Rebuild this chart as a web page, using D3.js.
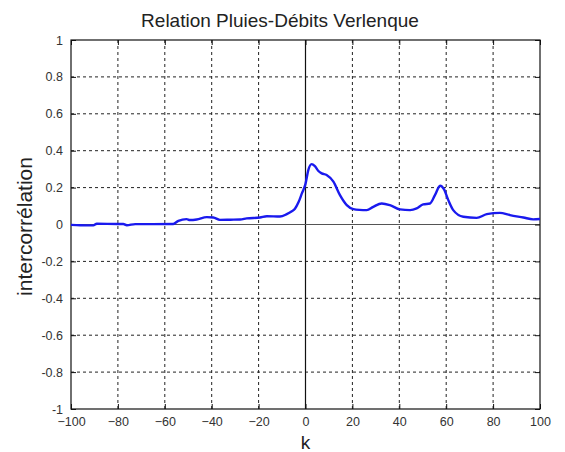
<!DOCTYPE html>
<html>
<head>
<meta charset="utf-8">
<script src="https://cdn.jsdelivr.net/npm/d3@7"></script>
<style>
body { margin: 0; background: #fff; }
svg { font-family: "Liberation Sans", Arial, sans-serif; }
</style>
</head>
<body>
<div id="chart"></div>
<script>
// data
var lags = [-100, -96, -90.5, -89, -80, -77.7, -76.2, -72.6, -65, -56.4, -54.2, -50.7, -49.3, -46.4, -42.1, -39.3, -36.5, -32, -27.9, -25.1, -19.4, -16.5, -10.9, -8, -6, -4.5, -3, -1.5, 0, 1.2, 2.6, 4, 5.5, 6.9, 9, 11.9, 14.7, 17.6, 20.4, 23, 26.1, 28.9, 32.5, 36, 40.3, 44.6, 47.4, 50.2, 53.1, 55.2, 57.4, 59.1, 60.9, 63, 67.3, 73, 77.3, 82.9, 87.2, 92.9, 97.1, 100]
var xcorr = [-0.002, -0.004, -0.005, 0.004, 0.003, 0.003, -0.004, 0.002, 0.002, 0.003, 0.02, 0.029, 0.024, 0.027, 0.04, 0.038, 0.025, 0.026, 0.027, 0.033, 0.038, 0.045, 0.043, 0.056, 0.07, 0.085, 0.12, 0.17, 0.22, 0.295, 0.327, 0.316, 0.29, 0.277, 0.268, 0.232, 0.159, 0.105, 0.083, 0.079, 0.078, 0.096, 0.114, 0.105, 0.082, 0.078, 0.087, 0.109, 0.114, 0.159, 0.21, 0.19, 0.132, 0.078, 0.042, 0.036, 0.056, 0.063, 0.051, 0.038, 0.028, 0.03]
var xTicks = [-100, -80, -60, -40, -20, 0, 20, 40, 60, 80, 100]
var yTicks = [-1, -0.8, -0.6, -0.4, -0.2, 0, 0.2, 0.4, 0.6, 0.8, 1]

var margin = {top: 40, right: 25, bottom: 43, left: 71}
var width = 565 - margin.left - margin.right
var height = 452 - margin.top - margin.bottom

var svg = d3.select("#chart")
    .append("svg")
    .attr("width", 565)
    .attr("height", 452)

var g = svg.append("g")
    .attr("transform", "translate(" + margin.left + "," + margin.top + ")")

var x = d3.scaleLinear().domain([-100, 100]).range([0, width])
var y = d3.scaleLinear().domain([-1, 1]).range([height, 0])

// dotted grid
g.selectAll(".vgrid")
    .data(xTicks.slice(1, -1).filter(function(d){ return d != 0 }))
    .enter().append("line")
    .attr("x1", function(d){ return x(d) }).attr("x2", function(d){ return x(d) })
    .attr("y1", 0).attr("y2", height)
    .attr("stroke", "#222").attr("stroke-width", 1)
    .attr("stroke-dasharray", "3,3")
g.selectAll(".hgrid")
    .data(yTicks.slice(1, -1).filter(function(d){ return d != 0 }))
    .enter().append("line")
    .attr("x1", 0).attr("x2", width)
    .attr("y1", function(d){ return y(d) }).attr("y2", function(d){ return y(d) })
    .attr("stroke", "#222").attr("stroke-width", 1)
    .attr("stroke-dasharray", "3,3")

// solid zero lines
g.append("line")
    .attr("x1", x(0)).attr("x2", x(0)).attr("y1", 0).attr("y2", height)
    .attr("stroke", "#111").attr("stroke-width", 1.2)
g.append("line")
    .attr("x1", 0).attr("x2", width).attr("y1", y(0)).attr("y2", y(0))
    .attr("stroke", "#555").attr("stroke-width", 1.2)

// axes (ticks inward, like matlab)
g.append("g")
    .attr("transform", "translate(0," + height + ")")
    .call(d3.axisBottom(x).tickValues(xTicks).tickSizeInner(-5).tickSizeOuter(0).tickPadding(8))
g.append("g")
    .call(d3.axisLeft(y).tickValues(yTicks).tickSizeInner(-5).tickSizeOuter(0).tickPadding(8)
        .tickFormat(function(d){ return d == 0 ? "0" : String(d) }))
g.append("g")
    .attr("transform", "translate(" + width + ",0)")
    .call(d3.axisRight(y).tickValues(yTicks).tickSizeInner(-5).tickSizeOuter(0).tickFormat(""))
g.append("g")
    .call(d3.axisTop(x).tickValues(xTicks).tickSizeInner(-5).tickSizeOuter(0).tickFormat(""))

g.selectAll(".domain").remove()
g.selectAll(".tick line").attr("stroke", "#111")
g.selectAll(".tick text")
    .style("font-size", "12.5px")
    .style("font-family", "Liberation Sans, Arial, sans-serif")
    .attr("fill", "#333")

// box
g.append("rect")
    .attr("x", 0).attr("y", 0)
    .attr("width", width).attr("height", height)
    .attr("fill", "none").attr("stroke", "#111").attr("stroke-width", 1.2)

// curve
var pts = lags.map(function(k, i){ return [k, xcorr[i]] })
g.append("path")
    .datum(pts)
    .attr("fill", "none")
    .attr("stroke", "#1a1aee")
    .attr("stroke-width", 2.4)
    .attr("stroke-linejoin", "round")
    .attr("d", d3.line()
        .curve(d3.curveMonotoneX)
        .x(function(d){ return x(d[0]) })
        .y(function(d){ return y(d[1]) }))

// labels
svg.append("text")
    .attr("x", 280)
    .attr("y", 27)
    .attr("text-anchor", "middle")
    .style("font-size", "19px")
    .attr("fill", "#222")
    .text("Relation Pluies-Débits Verlenque")

svg.append("text")
    .attr("x", margin.left + width / 2)
    .attr("y", 449)
    .attr("text-anchor", "middle")
    .style("font-size", "19px")
    .attr("fill", "#222")
    .text("k")

svg.append("text")
    .attr("transform", "translate(32," + (margin.top + height / 2 + 2) + ") rotate(-90)")
    .attr("text-anchor", "middle")
    .style("font-size", "21px")
    .attr("fill", "#222")
    .text("intercorrélation")
</script>
</body>
</html>
